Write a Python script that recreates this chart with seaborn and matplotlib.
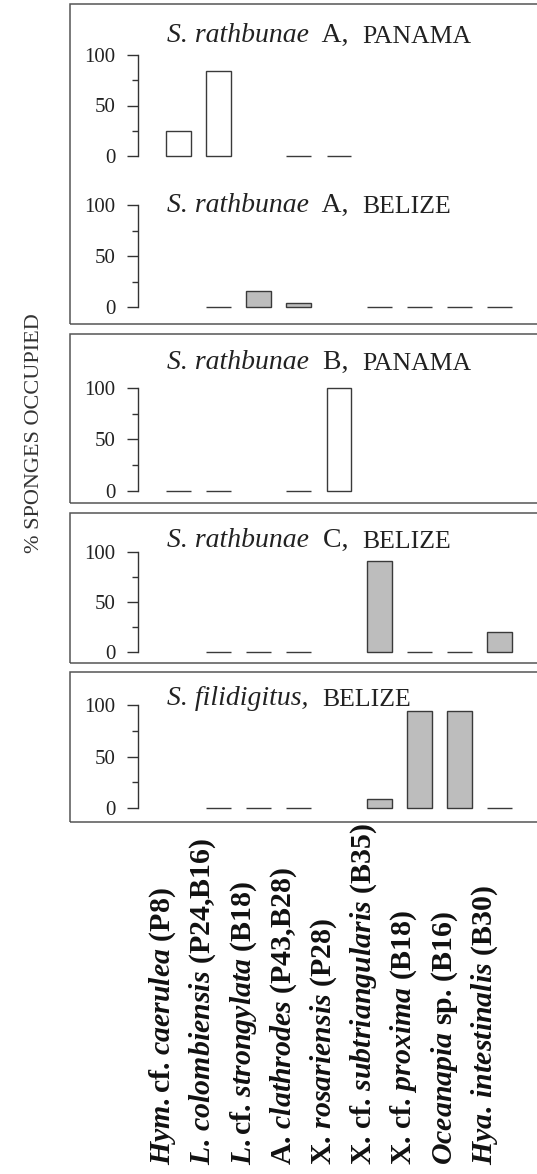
import numpy as np
import pandas as pd
import matplotlib
matplotlib.use("Agg")
import matplotlib.pyplot as plt
import matplotlib.transforms as mtransforms
from matplotlib.patches import Rectangle
import seaborn as sns

# ---------------- data ----------------
categories = ["Hym. cf. caerulea (P8)", "L. colombiensis (P24,B16)",
              "L. cf. strongylata (B18)", "A. clathrodes (P43,B28)",
              "X. rosariensis (P28)", "X. cf. subtriangularis (B35)",
              "X. cf. proxima (B18)", "Oceanapia sp. (B16)",
              "Hya. intestinalis (B30)"]
category_labels = [r"$\mathit{Hym.}$cf. $\mathit{caerulea}$ (P8)",
                   r"$\mathit{L.\,colombiensis}$ (P24,B16)",
                   r"$\mathit{L.}$cf. $\mathit{strongylata}$ (B18)",
                   r"A. $\mathit{clathrodes}$ (P43,B28)",
                   r"X. $\mathit{rosariensis}$ (P28)",
                   r"X. cf. $\mathit{subtriangularis}$ (B35)",
                   r"X. cf. $\mathit{proxima}$ (B18)",
                   r"$\mathit{Oceanapia}$ sp. (B16)",
                   r"$\mathit{Hya.\,intestinalis}$ (B30)"]
nan = np.nan
rathbunae_A_panama = [25, 84, nan, 0, 0, nan, nan, nan, nan]
rathbunae_A_belize = [nan, 0, 16, 4, nan, 0, 0, 0, 0]
rathbunae_B_panama = [0, 0, nan, 0, 100, nan, nan, nan, nan]
rathbunae_C_belize = [nan, 0, 0, 0, nan, 91, 0, 0, 20]
filidigitus_belize = [nan, 0, 0, 0, nan, 9, 94, 94, 0]

panel_series = [rathbunae_A_panama, rathbunae_A_belize, rathbunae_B_panama,
                rathbunae_C_belize, filidigitus_belize]
panel_species = ["S. rathbunae", "S. rathbunae", "S. rathbunae",
                 "S. rathbunae", "S. filidigitus,"]
panel_form = ["  A,  ", "  A,  ", "  B,  ", "  C,  ", "  "]
panel_site = ["PANAMA", "BELIZE", "PANAMA", "BELIZE", "BELIZE"]
panel_fill = ["white", "#bdbdbd", "white", "#bdbdbd", "#bdbdbd"]
y_ticks = [0, 50, 100]
y_minor = [25, 75]
y_label = "% SPONGES OCCUPIED"

# ---------------- style ----------------
sns.set_theme(style="white")
plt.rcParams["font.family"] = ["Liberation Serif", "DejaVu Serif"]
plt.rcParams["mathtext.fontset"] = "custom"
plt.rcParams["mathtext.it"] = "Liberation Serif:italic:bold"
plt.rcParams["mathtext.rm"] = "Liberation Serif:bold"
plt.rcParams["mathtext.bf"] = "Liberation Serif:bold"

W, H = 537, 1174
fig = plt.figure(figsize=(W / 100, H / 100), dpi=100)
fig.patch.set_facecolor("white")

def fy(p):
    return 1 - p / H

ink = "#333333"
txt = "#222222"
# pixel layout: (zero line, 100 line, title baseline)
panel_px = [(156, 55, 42), (307, 205, 212), (491, 388, 369),
            (652, 552, 547), (808, 705, 705)]
x_left, x_right = 138, 537
unit = 40.2
pad_u = 3

axes = []
for i, (y0, y100, base) in enumerate(panel_px):
    ppu = (y0 - y100) / 100
    bot = y0 + pad_u * ppu
    top = y100 - pad_u * ppu
    ax = fig.add_axes([x_left / W, fy(bot), (x_right - x_left) / W, (bot - top) / H])
    ax.patch.set_alpha(0)
    df = pd.DataFrame({"taxon": categories, "pct": panel_series[i]})
    sns.barplot(data=df, x="taxon", y="pct", order=categories, ax=ax,
                color=panel_fill[i], edgecolor="#3a3a3a", linewidth=1.0,
                width=0.62, saturation=1, errorbar=None)
    ax.set_xlim(-1, -1 + (x_right - x_left) / unit)
    ax.set_ylim(-pad_u, 100 + pad_u)
    for s in ["top", "right", "bottom"]:
        ax.spines[s].set_visible(False)
    ax.spines["left"].set_bounds(0, 100)
    ax.spines["left"].set_color(ink)
    ax.spines["left"].set_linewidth(1.0)
    ax.set_xticks([])
    ax.set_xlabel("")
    ax.set_ylabel("")
    ax.set_yticks(y_ticks)
    ax.set_yticks(y_minor, minor=True)
    ax.set_yticklabels([str(t) for t in y_ticks])
    ax.tick_params(axis="y", which="major", direction="out", length=8, width=1.0,
                   color=ink, labelsize=15, labelcolor=txt, pad=8, left=True)
    ax.tick_params(axis="y", which="minor", direction="out", length=4, width=1.0,
                   color=ink, left=True)
    # title: italic species, roman form, small-caps site
    t1 = fig.text(167 / W, fy(base), panel_species[i], fontsize=20,
                  style="italic", color=txt, va="baseline", ha="left")
    t2 = ax.annotate(panel_form[i], xy=(1, 0), xycoords=t1, fontsize=20,
                     color=txt, va="bottom", ha="left")
    ax.annotate(panel_site[i], xy=(1, 0), xycoords=t2, fontsize=18.5,
                color=txt, va="bottom", ha="left")
    axes.append(ax)

# outer frames
frames = [(4, 324), (334, 503), (513, 663), (672, 822)]
for top, bot in frames:
    fig.patches.append(Rectangle((70 / W, fy(bot)), 1.2, (bot - top) / H,
                                 transform=fig.transFigure, fill=False,
                                 edgecolor="#555555", linewidth=1.1))

# y label
fig.text(35 / W, fy(433), y_label, rotation=90, ha="center", va="center",
         fontsize=16, color="#333333")

# category labels, rotated, anchored at the bottom of the figure
ax_b = axes[-1]
trans = mtransforms.blended_transform_factory(ax_b.transData, fig.transFigure)
for i, lab in enumerate(category_labels):
    ax_b.text(i - 0.38, 9 / H, lab, transform=trans, rotation=90,
              ha="center", va="bottom", fontsize=21.5, fontweight="bold",
              color="#111111", clip_on=False)

fig.savefig("out.png", dpi=100, facecolor="white")
